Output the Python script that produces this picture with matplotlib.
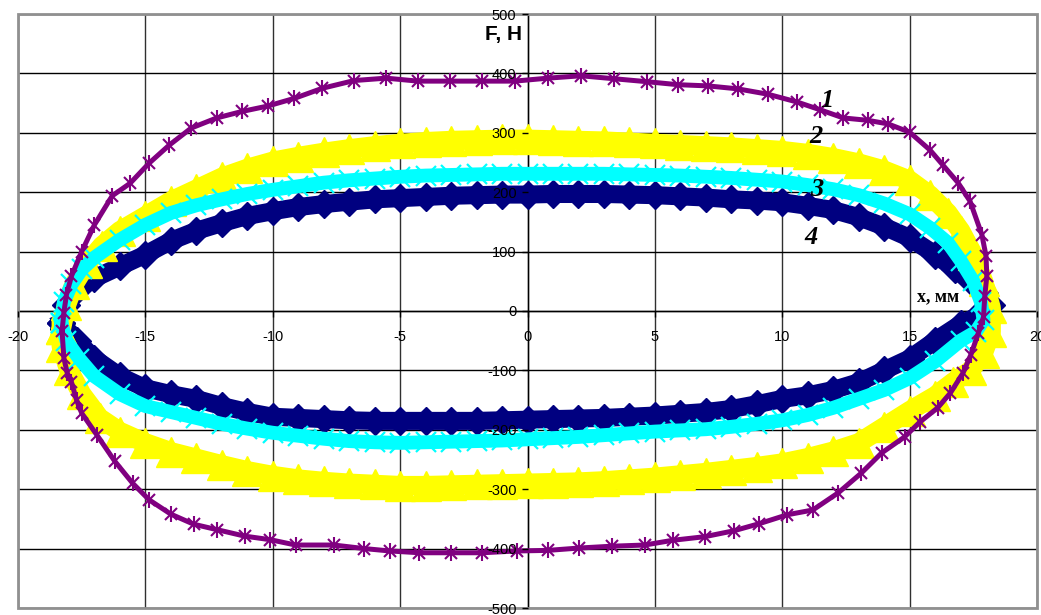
import numpy as np
import matplotlib.pyplot as plt

# Hysteresis loops F(x), four cases

# curve 1 (purple, asterisks)
x1 = [-18.27, -18.2, -18.1, -17.9, -17.5, -17.0, -16.3, -15.6, -14.85, -14.07, -13.2, -12.2,
      -11.2, -10.2, -9.15, -8.05, -6.8, -5.55, -4.3, -3.06, -1.8, -0.5, 0.8, 2.1, 3.4, 4.7,
      5.9, 7.07, 8.25, 9.43, 10.57, 11.47, 12.4, 13.36, 14.15, 15.0, 15.8, 16.3, 16.9, 17.37,
      17.84, 18.0, 18.03, 17.95, 17.9, 17.7, 17.4, 17.1, 16.6, 16.1, 15.4, 14.8, 13.9, 13.1,
      12.2, 11.2, 10.2, 9.1, 8.1, 6.95, 5.7, 4.6, 3.3, 2.04, 0.8, -0.43, -1.77, -3.0, -4.24,
      -5.4, -6.4, -7.6, -9.1, -10.1, -11.1, -12.2, -13.1, -14.0, -14.85, -15.5, -16.2, -16.9,
      -17.5, -17.7, -17.9, -18.07, -18.2]
y1 = [-34, -3, 27, 59, 100, 145, 194, 215, 249, 279, 308, 325,
      336, 345, 358, 375, 388, 392, 387, 387, 387, 387, 392, 396, 391, 386,
      381, 379, 374, 365, 352, 339, 325, 321, 315, 301, 271, 246, 216, 185,
      128, 92, 59, 25, -10, -37, -74, -104, -138, -163, -187, -212, -239, -273,
      -306, -335, -343, -358, -370, -380, -386, -394, -396, -399, -403, -404, -407, -407, -407,
      -404, -400, -394, -394, -385, -379, -368, -359, -342, -318, -290, -253, -209,
      -172, -150, -120, -104, -79]

# curve 2 (yellow, triangles)
x2 = [-18.3, -18.1, -17.8, -17.3, -16.7, -16, -15, -14, -13, -12, -11, -10, -9, -8, -7, -6,
      -5, -4, -3, -2, -1, 0, 1, 2, 3, 4, 5, 6, 7, 8, 9, 10, 11, 12, 13, 14, 15, 15.8, 16.5,
      17, 17.5, 17.9, 18.2, 18.2, 17.9, 17.4, 16.7, 16, 15, 14, 13, 12, 11, 10, 9, 8, 7, 6,
      5, 4, 3, 2, 1, 0, -1, -2, -3, -4, -5, -6, -7, -8, -9, -10, -11, -12, -13, -14, -15,
      -16, -16.8, -17.5, -18, -18.3]
y2 = [-30, 10, 45, 80, 110, 135, 160, 185, 205, 225, 240, 252, 260, 267, 273, 278,
      282, 285, 287, 288, 289, 289, 288, 287, 286, 284, 282, 280, 278, 276, 273, 270, 265,
      258, 249, 237, 220, 195, 165, 135, 95, 50, 5, -35, -70, -100, -120, -143, -168, -195,
      -222, -236, -247, -256, -262, -267, -272, -276, -280, -283, -286, -288, -289, -290,
      -291, -292, -293, -294, -294, -292, -290, -287, -283, -277, -269, -259, -248, -237,
      -222, -203, -180, -140, -100, -60]

# curve 3 (cyan, crosses)
x3 = [-18.3, -18.2, -17.9, -17.5, -17, -16, -15, -14, -13, -12, -11, -10, -9, -8, -7, -6,
      -5, -4, -3, -2, -1, 0, 1, 2, 3, 4, 5, 6, 7, 8, 9, 10, 11, 12, 13, 14, 15, 15.8, 16.5,
      17, 17.5, 17.8, 17.9, 17.6, 17, 16, 15, 14, 13, 12, 11, 10, 9, 8, 7, 6, 5, 4, 3, 2, 1,
      0, -1, -2, -3, -4, -5, -6, -7, -8, -9, -10, -11, -12, -13, -14, -15, -16, -17, -17.6,
      -18.1]
y3 = [-20, 15, 45, 70, 90, 120, 145, 165, 178, 188, 197, 204, 210, 216, 220, 223,
      226, 228, 229, 230, 231, 231, 231, 231, 231, 230, 229, 228, 226, 224, 221, 218, 212,
      205, 195, 181, 163, 140, 115, 85, 50, 15, -15, -35, -50, -85, -113, -133, -148, -163,
      -175, -184, -190, -195, -199, -201, -203, -206, -209, -212, -214, -216, -218, -219,
      -220, -221, -222, -221, -219, -215, -210, -205, -198, -190, -180, -170, -160, -140,
      -110, -80, -50]

# curve 4 (navy, diamonds)
x4 = [-18.3, -18.1, -17.7, -17, -16, -15, -14, -13, -12, -11, -10, -9, -8, -7, -6, -5,
      -4, -3, -2, -1, 0, 1, 2, 3, 4, 5, 6, 7, 8, 9, 10, 11, 12, 13, 14, 15, 16, 16.8, 17.4,
      17.9, 18.2, 17.6, 17, 16, 15, 14, 13, 12, 11, 10, 9, 8, 7, 6, 5, 4, 3, 2, 1, 0, -1,
      -2, -3, -4, -5, -6, -7, -8, -9, -10, -11, -12, -13, -14, -15, -16, -17, -17.7, -18.2]
y4 = [-20, 10, 35, 55, 75, 95, 118, 135, 148, 160, 168, 175, 180, 184, 188, 190,
      192, 194, 195, 196, 196, 197, 197, 197, 196, 195, 193, 191, 188, 186, 183, 177, 170,
      158, 142, 123, 95, 70, 50, 30, 10, -10, -22, -50, -80, -100, -120, -133, -142, -148,
      -157, -165, -170, -173, -176, -178, -180, -181, -182, -183, -184, -185, -185, -185,
      -185, -185, -184, -182, -180, -178, -170, -160, -148, -140, -130, -110, -80, -50, -30]

x_ticks = [-20, -15, -10, -5, 0, 5, 10, 15, 20]
y_ticks = [-500, -400, -300, -200, -100, 0, 100, 200, 300, 400, 500]

def closed(a):
    return np.append(a, a[0])

fig = plt.figure(figsize=(10.41, 6.15), dpi=100)
ax = fig.add_axes([18 / 1041, 7 / 615, 1019 / 1041, 594 / 615])

# grid lines under the data
for xv in x_ticks:
    ax.axvline(xv, color='#303030', lw=1.0, zorder=0.5)
for yv in y_ticks:
    ax.axhline(yv, color='black', lw=1.0, zorder=0.5)

# dense loops
ax.plot(closed(x4), closed(y4), color='#000080', lw=13, marker='D', ms=14,
        mec='#000080', solid_joinstyle='round', zorder=2)
ax.plot(closed(x2), closed(y2), color='#FFFF00', lw=14, marker='^', ms=22,
        mec='#FFFF00', solid_joinstyle='round', zorder=2.1)
ax.plot(closed(x3), closed(y3), color='#00FFFF', lw=10, marker='x', ms=14, mew=1.6,
        mec='#00FFFF', solid_joinstyle='round', zorder=2.2)

# curve 1 with asterisk markers
ax.plot(closed(x1), closed(y1), color='#800080', lw=3.6, solid_joinstyle='round', zorder=3)
ax.plot(x1, y1, ls='none', marker='x', ms=9, mew=1.5, color='#800080', zorder=3.1)
ax.plot(x1, y1, ls='none', marker='|', ms=12, mew=1.5, color='#800080', zorder=3.1)

ax.set_xlim(-20, 20)
ax.set_ylim(-500, 500)

# axes crossing at zero
ax.spines['left'].set_position(('data', 0))
ax.spines['bottom'].set_position(('data', 0))
ax.spines['right'].set_visible(False)
ax.spines['top'].set_visible(False)
for s in ['left', 'bottom']:
    ax.spines[s].set_color('black')
    ax.spines[s].set_linewidth(1.0)
    ax.spines[s].set_zorder(0.6)

frame = plt.Rectangle((0, 0), 1, 1, transform=ax.transAxes, fill=False,
                      edgecolor='#909090', lw=2, zorder=4, clip_on=False)
ax.add_patch(frame)

ax.set_xticks(x_ticks)
ax.set_yticks(y_ticks)
ax.set_xticklabels([str(v) for v in x_ticks])
ax.set_yticklabels([str(v) for v in y_ticks])
ax.tick_params(axis='x', direction='out', length=4, width=1, pad=10,
               labelsize=10.5, labelfontfamily='Liberation Sans')
ax.tick_params(axis='y', direction='out', length=4, width=1, pad=4,
               labelsize=10.5, labelfontfamily='Liberation Sans')
ax.xaxis.set_zorder(5)
ax.yaxis.set_zorder(5)

# axis names and curve numbers
ax.text(-0.2, 465, 'F, H', ha='right', va='center', fontsize=15, fontweight='bold',
        family='Liberation Sans', zorder=6)
ax.text(15.3, 24, 'x, мм', ha='left', va='center', fontsize=13, fontweight='bold',
        family='Liberation Serif', zorder=6)
num_x = [11.76, 11.33, 11.37, 11.14]
num_y = [355, 293, 204, 123]
for i, (nx, ny) in enumerate(zip(num_x, num_y)):
    ax.text(nx, ny, str(i + 1), ha='center', va='center', fontsize=19,
            fontweight='bold', fontstyle='italic', family='Liberation Serif', zorder=6)

fig.savefig('out.png', dpi=100)
